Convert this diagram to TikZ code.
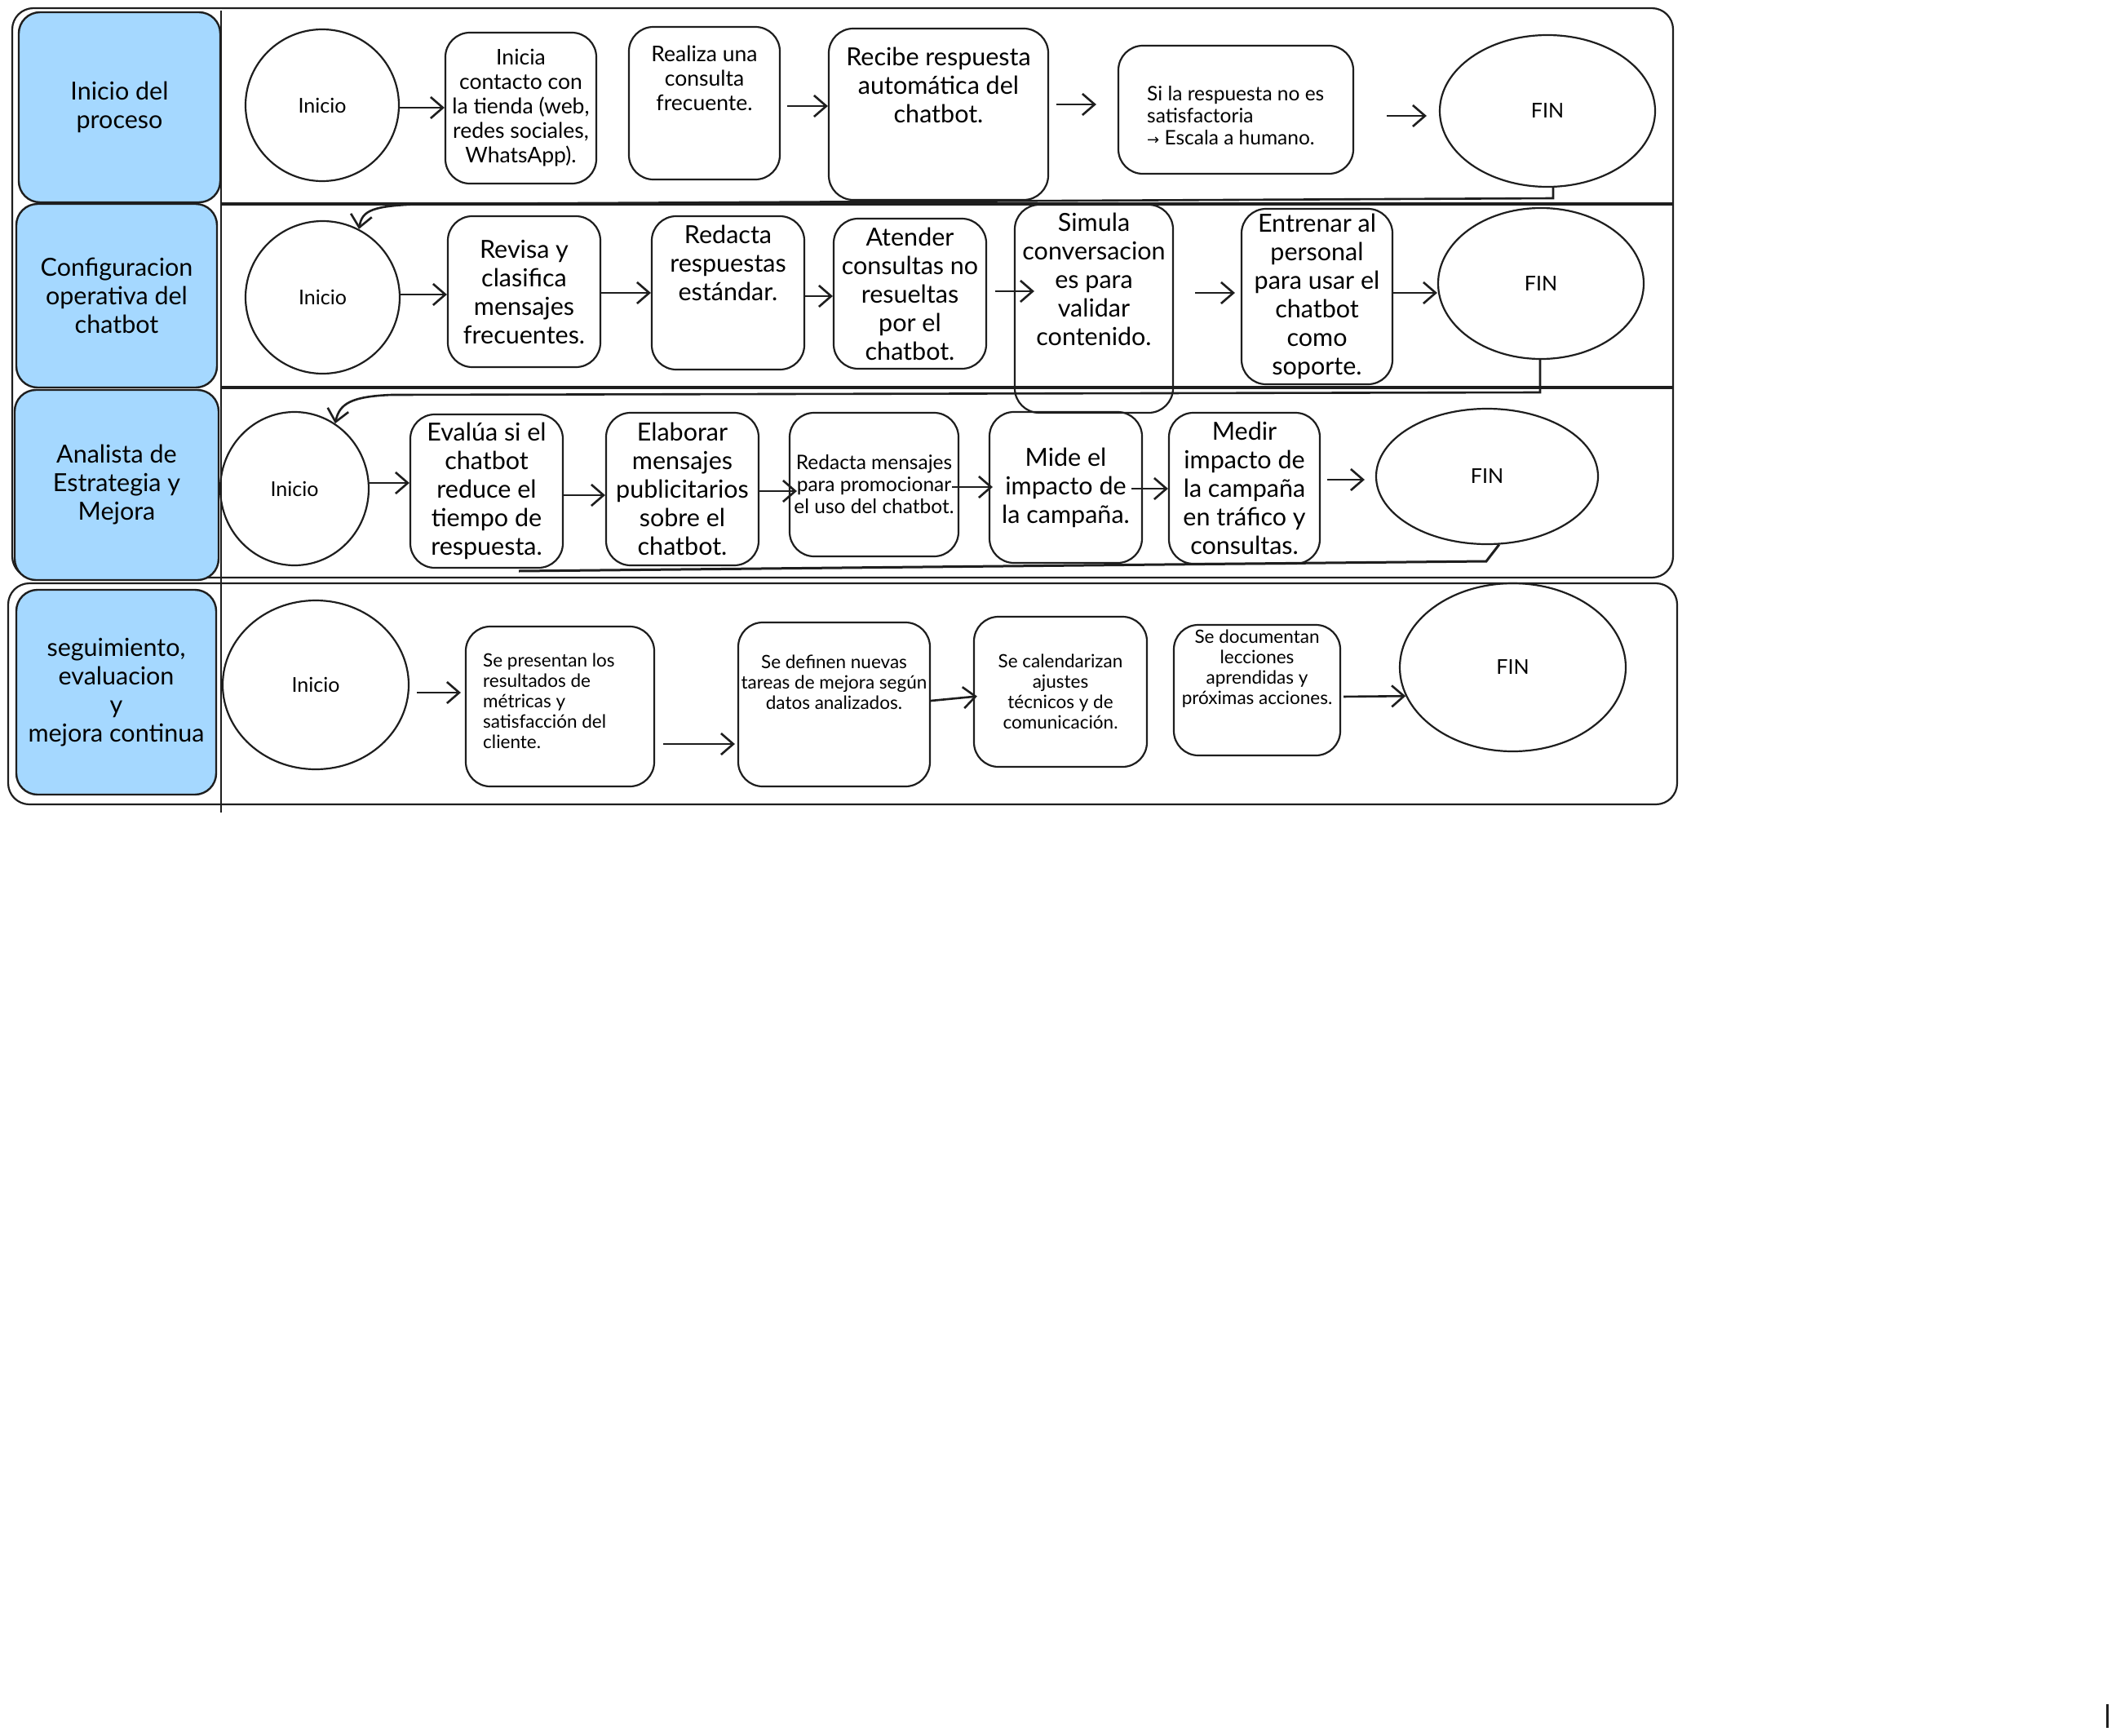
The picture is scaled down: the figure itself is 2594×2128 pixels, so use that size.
\documentclass[tikz,border=0pt]{standalone}
\usepackage{fontspec}
\setmainfont{Lato}
\newfontfamily\symfont{DejaVu Sans}
\usetikzlibrary{arrows.meta,shapes.geometric}
\definecolor{lblue}{HTML}{A5D8FF}
\definecolor{ink}{HTML}{1E1E1E}
\begin{document}
\begin{tikzpicture}[x=1pt,y=-1pt,
  lane/.style={draw=ink, fill=lblue, line width=2.4pt, rounded corners=26pt, inner sep=0pt, align=center, font=\fontsize{30.5}{35}\selectfont},
  stepbox/.style={draw=ink, line width=2.2pt, rounded corners=30pt, inner sep=0pt, align=center},
  oval/.style={draw=ink, ellipse, line width=2.2pt, inner sep=0pt, font=\fontsize{25}{28}\selectfont},
  txt/.style={inner sep=0pt, align=center},
  fbig/.style={font=\fontsize{30.5}{35}\selectfont},
  fmid/.style={font=\fontsize{26.5}{30}\selectfont},
  fsml/.style={font=\fontsize{24.5}{27}\selectfont},
  ftiny/.style={font=\fontsize{22.5}{25}\selectfont},
  conn/.style={draw=ink, line width=2.6pt, -{Straight Barb[length=15pt,width=26pt,line width=2.6pt]}},
  linkline/.style={draw=ink, line width=3pt},
  sepline/.style={draw=ink, line width=4pt},
  frame/.style={draw=ink, line width=2.2pt, rounded corners=26pt}
]
\useasboundingbox[fill=white] (0,0) rectangle (2594,2128);

% containers
\draw[frame] (15,10) rectangle (2051,708);
\draw[frame] (10,715) rectangle (2056,986);
\draw[sepline] (271,250) -- (2051,250);
\draw[sepline] (271,475) -- (2051,475);

% lanes
\node[lane, minimum width=247pt, minimum height=233pt] (L1) at (146.5,131.5) {Inicio del\\proceso};
\node[lane, minimum width=246pt, minimum height=225pt] (L2) at (143,362.5) {Configuracion\\operativa del\\chatbot};
\node[lane, minimum width=250pt, minimum height=233pt] (L3) at (143,594.5) {Analista de\\Estrategia y\\Mejora};
\node[lane, minimum width=245pt, minimum height=251pt] (L4) at (142.5,848.5) {seguimiento,\\evaluacion\\y\\mejora continua};
\draw[ink, line width=2.4pt] (271,13) -- (271,996);

% row 1
\node[oval, minimum width=188pt, minimum height=186pt] (I1) at (395,129) {Inicio};
\node[stepbox, fmid, minimum width=185pt, minimum height=185pt] (N11) at (638.5,132.5) {Inicia\\contacto con\\la tienda (web,\\redes sociales,\\WhatsApp).};
\node[stepbox, minimum width=185pt, minimum height=187pt] (N12) at (863.5,126.5) {};
\node[txt, fmid] (T12) at (863.5,96) {Realiza una\\consulta\\frecuente.};
\node[stepbox, minimum width=269pt, minimum height=210pt] (N13) at (1150.5,140) {};
\node[txt, fbig] (T13) at (1150.5,104) {Recibe respuesta\\automática del\\chatbot.};
\node[stepbox, minimum width=288pt, minimum height=157pt] (N14) at (1515,134.5) {};
\node[txt, fsml, align=left, anchor=west] (T14) at (1406,142) {Si la respuesta no es\\satisfactoria\\{\symfont\fontsize{18}{27}\selectfont →} Escala a humano.};
\node[oval, minimum width=264pt, minimum height=186pt] (F1) at (1897,136) {FIN};

% row 2
\node[oval, minimum width=189pt, minimum height=187pt] (I2) at (395.5,364.5) {Inicio};
\node[stepbox, fbig, minimum width=187pt, minimum height=185pt] (N21) at (642.5,357.5) {Revisa y\\clasifica\\mensajes\\frecuentes.};
\node[stepbox, minimum width=187pt, minimum height=188pt] (N22) at (892.5,359) {};
\node[txt, fbig] (T22) at (892.5,322) {Redacta\\respuestas\\estándar.};
\node[stepbox, fbig, minimum width=187pt, minimum height=184pt] (N23) at (1115.5,360) {Atender\\consultas no\\resueltas\\por el\\chatbot.};
\node[stepbox, minimum width=194pt, minimum height=255pt] (N24) at (1341,378.5) {};
\node[txt, fbig] (T24) at (1341,342) {Simula\\conversacion\\es para\\validar\\contenido.};
\node[stepbox, fbig, minimum width=185pt, minimum height=215pt] (N25) at (1614.5,363.5) {Entrenar al\\personal\\para usar el\\chatbot\\como\\soporte.};
\node[oval, minimum width=252pt, minimum height=185pt] (F2) at (1889,347.5) {FIN};

% row 3
\node[oval, minimum width=182pt, minimum height=188pt] (I3) at (361,599) {Inicio};
\node[stepbox, fbig, minimum width=187pt, minimum height=188pt] (N31) at (596.5,602) {Evalúa si el\\chatbot\\reduce el\\tiempo de\\respuesta.};
\node[stepbox, fbig, minimum width=187pt, minimum height=187pt] (N32) at (836.5,599.5) {Elaborar\\mensajes\\publicitarios\\sobre el\\chatbot.};
\node[stepbox, fsml, minimum width=207pt, minimum height=176pt] (N33) at (1071.5,594) {Redacta mensajes\\para promocionar\\el uso del chatbot.};
\node[stepbox, fbig, minimum width=187pt, minimum height=185pt] (N34) at (1306.5,597.5) {Mide el\\impacto de\\la campaña.};
\node[stepbox, fbig, minimum width=185pt, minimum height=185pt] (N35) at (1525.5,598.5) {Medir\\impacto de\\la campaña\\en tráfico y\\consultas.};
\node[oval, minimum width=272pt, minimum height=166pt] (F3) at (1823,584) {FIN};

% row 4
\node[oval, minimum width=228pt, minimum height=207pt] (I4) at (387,839.5) {Inicio};
\node[stepbox, minimum width=231pt, minimum height=196pt] (N41) at (686.5,866) {};
\node[txt, ftiny, align=left, anchor=west] (T41) at (592,859.5) {Se presentan los\\resultados de\\métricas y\\satisfacción del\\cliente.};
\node[stepbox, minimum width=235pt, minimum height=201pt] (N42) at (1022.5,863.5) {};
\node[txt, ftiny] (T42) at (1022.5,836) {Se definen nuevas\\tareas de mejora según\\datos analizados.};
\node[stepbox, ftiny, minimum width=212pt, minimum height=184pt] (N43) at (1300,848) {Se calendarizan\\ajustes\\técnicos y de\\comunicación.};
\node[stepbox, minimum width=204pt, minimum height=160pt] (N44) at (1541,846) {};
\node[txt, ftiny] (T44) at (1541,820) {Se documentan\\lecciones\\aprendidas y\\próximas acciones.};
\node[oval, minimum width=277pt, minimum height=206pt] (F4) at (1854.5,818) {FIN};

% connectors row 1
\draw[conn] (I1.east |- 0,132) -- (N11.west |- 0,132);
\draw[conn, shorten <=8pt] (N12.east |- 0,130) -- (N13.west |- 0,130);
\draw[conn, shorten <=9pt, shorten >=26pt] (N13.east |- 0,128) -- (N14.west |- 0,128);
\draw[conn, shorten <=40pt, shorten >=15pt] (N14.east |- 0,142) -- (F1.west |- 0,142);
\draw[conn] (F1.south -| 1904,0) -- (1904,243) -- (520,250) .. controls (455,252) and (444,258) .. (I2.62);

% connectors row 2
\draw[conn] (I2.east |- 0,361) -- (N21.west |- 0,361);
\draw[conn] (N21.east |- 0,359) -- (N22.west |- 0,359);
\draw[conn] (N22.east |- 0,363) -- (N23.west |- 0,363);
\draw[conn, shorten <=10pt, shorten >=-25pt] (N23.east |- 0,357) -- (N24.west |- 0,357);
\draw[conn, shorten <=26pt, shorten >=7pt] (N24.east |- 0,359) -- (N25.west |- 0,359);
\draw[conn] (N25.east |- 0,359) -- (F2.west |- 0,359);
\draw[conn] (F2.south -| 1888,0) -- (1888,481) -- (480,484) .. controls (430,486) and (416,495) .. (I3.58);

% connectors row 3
\draw[conn] (I3.east |- 0,592) -- (N31.west |- 0,592);
\draw[conn] (N31.east |- 0,607) -- (N32.west |- 0,607);
\draw[conn, shorten >=-10pt] (N32.east |- 0,602) -- (N33.west |- 0,602);
\draw[conn, shorten <=-9pt, shorten >=-5pt] (N33.east |- 0,597) -- (N34.west |- 0,597);
\draw[conn, shorten <=-14pt] (N34.east |- 0,599) -- (N35.west |- 0,599);
\draw[conn, shorten <=8pt, shorten >=13pt] (N35.east |- 0,588) -- (F3.west |- 0,588);
\draw[linkline] (F3.-80) -- (1822,688) -- (636,700);

% connectors row 4
\draw[conn, shorten <=9pt, shorten >=5pt] (I4.east |- 0,849) -- (N41.west |- 0,849);
\draw[conn, shorten <=10pt, shorten >=3pt] (N41.east |- 0,912) -- (N42.west |- 0,912);
\draw[conn, shorten >=-5pt] (N42.east |- 0,859) -- (N43.west |- 0,854);
\draw[conn, shorten <=3pt] (N44.east |- 0,854) -- (F4.195);

% stray mark
\draw[ink, line width=3pt] (2583,2089) -- (2583,2118);
\end{tikzpicture}
\end{document}
